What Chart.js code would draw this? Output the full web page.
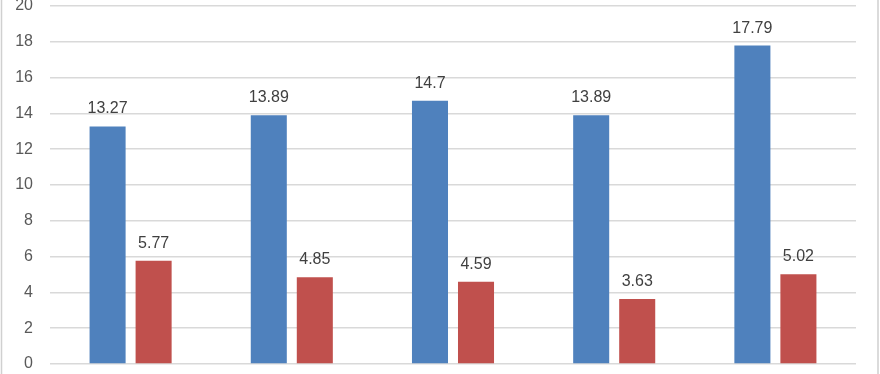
<!DOCTYPE html>
<html>
<head>
<meta charset="utf-8">
<script src="https://cdn.jsdelivr.net/npm/chart.js@4/dist/chart.umd.min.js"></script>
<style>
  html, body { margin: 0; padding: 0; background: #fff; }
  #wrap { width: 880px; height: 374px; position: relative; }
</style>
</head>
<body>
<div id="wrap"><canvas id="barChart"></canvas></div>
<script>
const categorias = ['1', '2', '3', '4', '5'];
const serieAzul = [13.27, 13.89, 14.7, 13.89, 17.79];
const serieRoja = [5.77, 4.85, 4.59, 3.63, 5.02];
const ticksY = [0, 2, 4, 6, 8, 10, 12, 14, 16, 18, 20];

// etiquetas de valor encima de cada barra
const etiquetasPlugin = {
  id: 'etiquetas',
  afterDatasetsDraw(chart) {
    const ctx = chart.ctx;
    ctx.save();
    ctx.font = '16px "Liberation Sans", Arial, sans-serif';
    ctx.fillStyle = '#404040';
    ctx.textAlign = 'center';
    ctx.textBaseline = 'alphabetic';
    chart.data.datasets.forEach((ds, i) => {
      chart.getDatasetMeta(i).data.forEach((bar, j) => {
        ctx.fillText(String(ds.data[j]), bar.x, bar.y - 13);
      });
    });
    ctx.restore();
  }
};

// borde gris del marco
const bordePlugin = {
  id: 'borde',
  afterDraw(chart) {
    const ctx = chart.ctx;
    ctx.save();
    ctx.strokeStyle = '#d0d0d0';
    ctx.lineWidth = 1.5;
    ctx.beginPath();
    ctx.moveTo(1.5, 0); ctx.lineTo(1.5, 374);
    ctx.moveTo(878, 0); ctx.lineTo(878, 374);
    ctx.stroke();
    ctx.restore();
  }
};

new Chart(document.getElementById('barChart').getContext('2d'), {
  type: 'bar',
  data: {
    labels: categorias,
    datasets: [
      { label: 'Serie 1', data: serieAzul, backgroundColor: '#4f81bd' },
      { label: 'Serie 2', data: serieRoja, backgroundColor: '#c0504d' }
    ]
  },
  options: {
    responsive: true,
    maintainAspectRatio: false,
    animation: false,
    categoryPercentage: 0.571,
    barPercentage: 0.783,
    layout: { padding: { left: 0, right: 24, top: 6, bottom: 10 } },
    plugins: {
      legend: { display: false },
      tooltip: { enabled: false }
    },
    scales: {
      x: {
        display: false
      },
      y: {
        min: 0,
        max: 20,
        afterBuildTicks(axis) {
          axis.ticks = ticksY.map(v => ({ value: v }));
        },
        afterFit(axis) {
          axis.width = 50;
          axis.paddingTop = 0;
          axis.paddingBottom = 0;
        },
        border: { display: false },
        grid: { color: '#d9d9d9', lineWidth: 1.5, drawTicks: false },
        ticks: {
          padding: 17,
          color: '#595959',
          font: { family: '"Liberation Sans", Arial, sans-serif', size: 16 }
        }
      }
    }
  },
  plugins: [etiquetasPlugin, bordePlugin]
});
</script>
</body>
</html>
